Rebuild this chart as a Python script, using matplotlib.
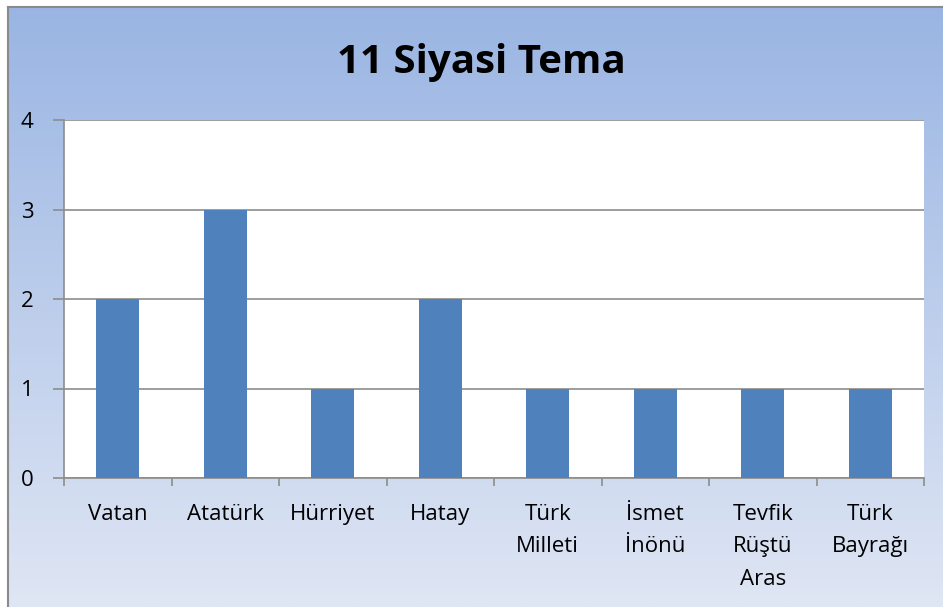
import numpy as np
import matplotlib.pyplot as plt

categories = ['Vatan', 'Atatürk', 'Hürriyet', 'Hatay', 'Türk\nMilleti',
              'İsmet\nİnönü', 'Tevfik\nRüştü\nAras', 'Türk\nBayrağı']
values = [2, 3, 1, 2, 1, 1, 1, 1]
yticks = [0, 1, 2, 3, 4]
title = '11 Siyasi Tema'

W, H = 943, 607
fig = plt.figure(figsize=(W / 100, H / 100), dpi=100)
fig.patch.set_facecolor('white')

# gradient background panel
bg = fig.add_axes([8 / W, 0, 1 - 8 / W, 1 - 7 / H])
grad = np.linspace(0, 1, 256).reshape(-1, 1)
top_c = np.array([0x9A, 0xB5, 0xE3]) / 255
bot_c = np.array([0xDF, 0xE6, 0xF4]) / 255
img = top_c + (bot_c - top_c) * grad[:, :, None]
bg.imshow(img, aspect='auto', extent=[0, 1, 0, 1], origin='upper')
bg.set_xlim(0, 1)
bg.set_ylim(0, 1)
for s in ['right', 'bottom']:
    bg.spines[s].set_visible(False)
for s in ['left', 'top']:
    bg.spines[s].set_color('#8a8a8a')
    bg.spines[s].set_linewidth(1.5)
bg.set_xticks([])
bg.set_yticks([])

ax = fig.add_axes([64 / W, 1 - 478 / H, (924 - 64) / W, (478 - 120) / H])
ax.set_facecolor('white')
x = np.arange(len(categories))
ax.bar(x, values, width=0.4, color='#4F81BD', zorder=3)
ax.set_xlim(-0.5, len(categories) - 0.5)
ax.set_ylim(0, 4)
ax.set_yticks(yticks)
ax.yaxis.grid(True, color='#8c8c8c', linewidth=1.2, zorder=0)
ax.set_xticks(x)
ax.set_xticklabels(categories, fontsize=16, family='Open Sans',
                   linespacing=1.72, va='top')
ax.set_xticks(np.arange(len(categories) + 1) - 0.5, minor=True)
ax.tick_params(axis='x', which='major', length=0, pad=18.5)
ax.tick_params(axis='x', which='minor', length=6, color='#8c8c8c', width=1.2)
ax.tick_params(axis='y', length=8, color='#8c8c8c', width=1.2, pad=14,
               labelsize=16)
for lbl in ax.get_yticklabels():
    lbl.set_family('Open Sans')
for s in ['top', 'right']:
    ax.spines[s].set_visible(False)
for s in ['left', 'bottom']:
    ax.spines[s].set_color('#8c8c8c')
    ax.spines[s].set_linewidth(1.2)

fig.text(481 / W, 1 - 62 / H, title, ha='center', va='center',
         fontsize=29, fontweight='bold', family='Open Sans')

fig.savefig('out.png', dpi=100)
